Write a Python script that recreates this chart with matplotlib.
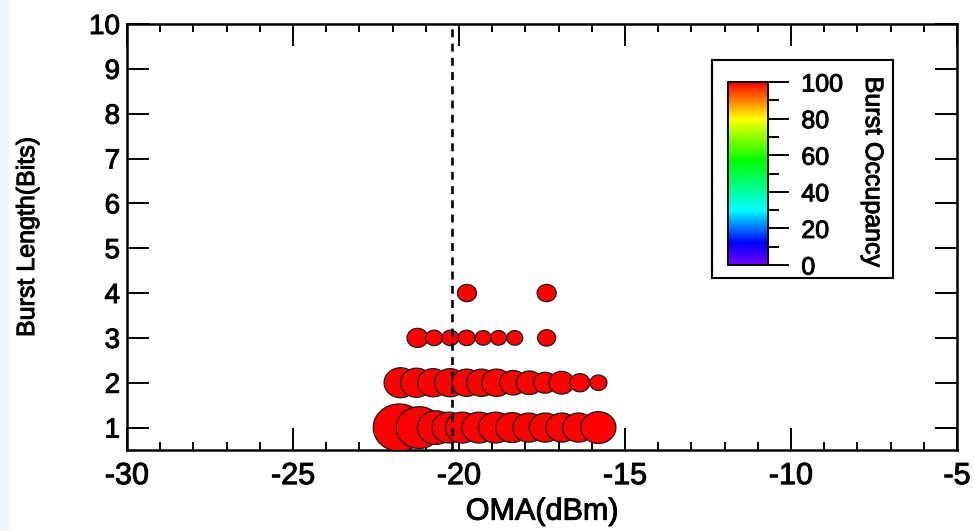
import numpy as np
import matplotlib as mpl
mpl.use('Agg')
import matplotlib.pyplot as plt
import matplotlib.patheffects as pe
from matplotlib.path import Path
from matplotlib.colors import LinearSegmentedColormap

plt.rcParams['font.family'] = ['Liberation Sans', 'DejaVu Sans']
plt.rcParams['axes.unicode_minus'] = False

# --- data: one list per burst length
oma_b1 = [-21.8, -21.2, -20.7, -20.3, -19.9, -19.4, -18.9, -18.4, -17.9, -17.4, -16.9, -16.4, -15.8]
size_b1 = [52, 46, 37, 34, 34, 34, 34, 33, 32, 32, 32, 32, 35]
oma_b2 = [-21.76, -21.28, -20.78, -20.27, -19.77, -19.32, -18.87, -18.37, -17.88, -17.41, -16.91, -16.36, -15.8]
size_b2 = [33, 32, 31, 31, 30, 30, 30, 27, 26, 23, 25, 20, 17]
oma_b3 = [-21.25, -20.75, -20.26, -19.77, -19.27, -18.81, -18.32, -17.36]
size_b3 = [21, 17, 17, 17, 16, 16, 16, 18]
oma_b4 = [-19.76, -17.36]
size_b4 = [19, 19]
occupancy = 100.0          # every burst shown is fully occupied
oma_limit = -20.2          # sensitivity marker (dashed)

# rainbow table, violet (0) -> red (100)
cmap = LinearSegmentedColormap.from_list('burst', [
    (0.00, (0.45, 0.0, 1.0)),
    (0.12, (0.0, 0.0, 1.0)),
    (0.30, (0.0, 1.0, 1.0)),
    (0.57, (0.0, 1.0, 0.0)),
    (0.80, (1.0, 1.0, 0.0)),
    (1.00, (1.0, 0.0, 0.0)),
])
norm = mpl.colors.Normalize(0, 100)

# slightly wide ellipse marker
th = np.linspace(0, 2*np.pi, 73)
ell = Path(np.column_stack([1.1*np.cos(th), np.sin(th)]), closed=True)

# heavier text strokes
heavy = [pe.withStroke(linewidth=0.7, foreground='k')]

W, H = 974, 531
fig = plt.figure(figsize=[W/100, H/100], dpi=100)
fig.patches.append(mpl.patches.Rectangle(
    (0, 0), 8/W, 1, transform=fig.transFigure, color='#eef3fa', zorder=0))

ax = fig.add_axes([127/W, 1-450/H, 830/W, 426/H])

rows = [(oma_b2, 2, size_b2), (oma_b1, 1, size_b1),
        (oma_b3, 3, size_b3), (oma_b4, 4, size_b4)]
for xs, b, ds in rows:
    ds = np.asarray(ds, float)
    ax.scatter(xs, [b]*len(xs), s=(0.72*ds)**2, marker=ell,
               c=[occupancy]*len(xs), cmap=cmap, norm=norm,
               edgecolors='#1a1a1a', linewidths=0.9, zorder=3)

ln, = ax.plot([oma_limit, oma_limit], [0.5, 10], color='k', lw=1.9, zorder=5)
ln.set_dashes((3.0, 2.4))

ax.set_xlim(-30, -5)
ax.set_ylim(0.5, 10)
ax.set_xticks(np.arange(-30, -4, 5))
ax.set_xticks(np.arange(-30, -4, 1), minor=True)
ax.set_yticks(np.arange(1, 11))
ax.tick_params(which='both', direction='in', top=True, right=True, width=1.4, color='k')
ax.tick_params(which='major', length=15.5)
ax.tick_params(which='minor', length=5.5)
ax.tick_params(axis='x', labelsize=22, pad=8)
ax.tick_params(axis='y', labelsize=20, pad=5)
for sp in ax.spines.values():
    sp.set_linewidth(1.8)
ax.set_xlabel('OMA(dBm)', fontsize=22, labelpad=4, path_effects=heavy)
ax.set_ylabel('Burst Length(Bits)', fontsize=18, labelpad=36, path_effects=heavy)
for t in ax.get_xticklabels() + ax.get_yticklabels():
    t.set_path_effects(heavy)

# --- colour scale in a framed box
box = fig.add_axes([712/W, 1-278/H, 181/W, 218/H])
box.set_xticks([]); box.set_yticks([])
for sp in box.spines.values():
    sp.set_linewidth(1.5)

cax = fig.add_axes([728/W, 1-265/H, 40/W, 183/H])
sm = mpl.cm.ScalarMappable(norm=norm, cmap=cmap)
cb = fig.colorbar(sm, cax=cax, ticks=np.arange(0, 101, 20))
cb.outline.set_linewidth(1.4)
cax.yaxis.set_minor_locator(mpl.ticker.MultipleLocator(10))
cax.tick_params(which='both', direction='out', width=1.4, labelsize=18, pad=9)
cax.tick_params(which='major', length=15)
cax.tick_params(which='minor', length=8)
for t in cax.get_yticklabels():
    t.set_path_effects(heavy)
fig.text(873/W, 1-172/H, 'Burst Occupancy', rotation=270, fontsize=18,
         ha='center', va='center', path_effects=heavy)

fig.savefig('out.png', dpi=100)
